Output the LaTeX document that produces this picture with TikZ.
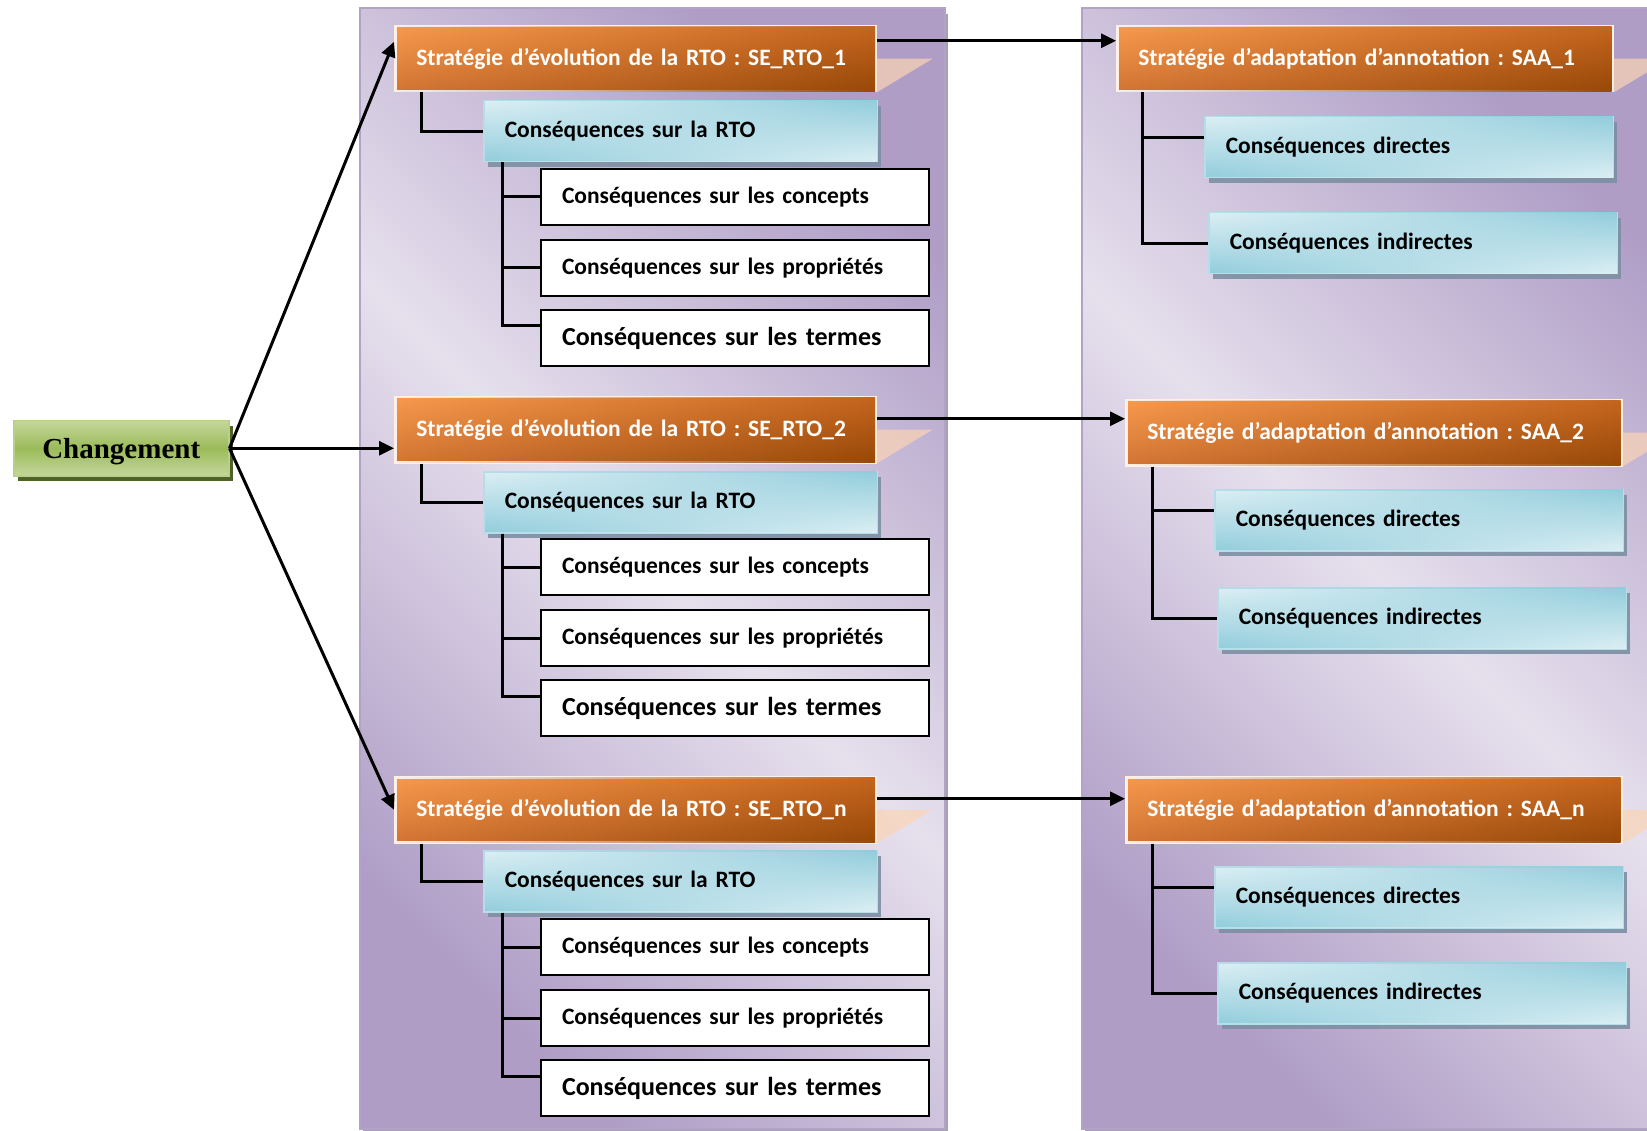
\documentclass[tikz,border=0pt]{standalone}
\usepackage{fontspec}
\setmainfont{Carlito}
\newfontfamily\serifbold{Liberation Serif}
\usepackage{tikz}
\usetikzlibrary{arrows.meta, positioning, shadows, fadings}
\frenchspacing
\definecolor{panellight}{HTML}{E6E0ED}
\definecolor{paneldark}{HTML}{AF9DC6}
\definecolor{panelline}{HTML}{B3A2C7}
\definecolor{panelshadow}{HTML}{8E8A9A}
\definecolor{orlight}{HTML}{F79A4D}
\definecolor{ormid}{HTML}{D27535}
\definecolor{ortopright}{HTML}{C4651F}
\definecolor{ordark}{HTML}{984807}
\definecolor{bllight}{HTML}{DCEFF4}
\definecolor{bldark}{HTML}{92CDDC}
\definecolor{blline}{HTML}{B7DEE8}
\definecolor{blshadow}{HTML}{7D8FA3}
\definecolor{grlight}{HTML}{C4D79B}
\definecolor{grmid}{HTML}{9BBB59}
\definecolor{grshadow}{HTML}{4F6228}
\definecolor{peach}{HTML}{FBD4B4}

\begin{document}
\begin{tikzpicture}[x=1pt, y=-1pt,
  panel/.style={draw=panelline, line width=2pt, top color=paneldark,
                bottom color=paneldark, middle color=panellight, shading angle=-45,
                drop shadow={shadow xshift=3pt, shadow yshift=-6pt, fill=panelshadow, opacity=0.8}},
  chgbox/.style={rectangle, draw=grmid!70!white, line width=1.5pt,
                 top color=grlight, bottom color=grlight, middle color=grmid,
                 minimum width=215pt, minimum height=55pt, anchor=north west,
                 text depth=0pt,
                 drop shadow={shadow xshift=4pt, shadow yshift=-5pt, fill=grshadow, opacity=1},
                 font=\serifbold\bfseries\fontsize{29}{32}\selectfont},
  seb/.style={rectangle, draw=white!85!orlight, line width=2.5pt,
              top color=orlight, bottom color=ormid,
              postaction={path fading=west, top color=ortopright, bottom color=ordark},
              text width=438pt, inner xsep=21pt, minimum height=65pt, align=left,
              font=\bfseries\fontsize{23.5}{28}\selectfont, text=white, anchor=north west},
  saab/.style={seb, text width=453pt},
  rtob/.style={rectangle, draw=blline, line width=1.5pt,
               top color=bllight, bottom color=bldark,
               postaction={path fading=west, top color=bldark, bottom color=bllight},
               text width=351pt, inner xsep=21pt, minimum height=61pt, align=left,
               font=\bfseries\fontsize{23.5}{28}\selectfont, anchor=north west,
               drop shadow={shadow xshift=4pt, shadow yshift=-5pt, fill=blshadow, opacity=0.9}},
  csqb/.style={rtob, text width=366pt},
  termb/.style={rectangle, draw=black, line width=2pt, fill=white,
                text width=346pt, inner xsep=21pt, minimum height=56pt, align=left,
                font=\bfseries\fontsize{23.5}{28}\selectfont},
  bigterm/.style={font=\bfseries\fontsize{26}{30}\selectfont},
  tree/.style={line width=3pt, black},
  arr/.style={-{Triangle[length=15pt, width=14pt]}, line width=3pt, black},
  tri/.style={fill=peach, opacity=0.7}
]
\useasboundingbox (0,0) rectangle (1647,1131);
\clip (0,0) rectangle (1647,1131);

% panels
\draw[panel] (360,8) rectangle (945,1129);
\draw[panel] (1082,8) rectangle (1660,1129);

\node[chgbox] (chg) at (13,420) {Changement};

% evolution strategies
\node[seb] (se1) at (394,25)  {Stratégie d’évolution de la RTO : SE\_RTO\_1};
\node[seb] (se2) at (394,396) {Stratégie d’évolution de la RTO : SE\_RTO\_2};
\node[seb] (se3) at (394,776) {Stratégie d’évolution de la RTO : SE\_RTO\_n};

\node[rtob] (rto1) at (483,100) {Conséquences sur la RTO};
\node[rtob] (rto2) at (483,471) {Conséquences sur la RTO};
\node[rtob] (rto3) at (483,850) {Conséquences sur la RTO};

\node[termb, anchor=north west] (c1) at (540,168) {Conséquences sur les concepts};
\node[termb, below=13pt of c1] (p1) {Conséquences sur les propriétés};
\node[termb, bigterm, below=12pt of p1] (t1) {Conséquences sur les termes};
\node[termb, anchor=north west] (c2) at (540,538) {Conséquences sur les concepts};
\node[termb, below=13pt of c2] (p2) {Conséquences sur les propriétés};
\node[termb, bigterm, below=12pt of p2] (t2) {Conséquences sur les termes};
\node[termb, anchor=north west] (c3) at (540,918) {Conséquences sur les concepts};
\node[termb, below=13pt of c3] (p3) {Conséquences sur les propriétés};
\node[termb, bigterm, below=12pt of p3] (t3) {Conséquences sur les termes};

% annotation strategies
\node[saab] (saa1) at (1116,25)  {Stratégie d’adaptation d’annotation : SAA\_1};
\node[saab] (saa2) at (1125,399) {Stratégie d’adaptation d’annotation : SAA\_2};
\node[saab] (saa3) at (1125,776) {Stratégie d’adaptation d’annotation : SAA\_n};

\node[csqb] (dir1) at (1204,116) {Conséquences directes};
\node[csqb] (ind1) at (1208,212) {Conséquences indirectes};
\node[csqb] (dir2) at (1214,489) {Conséquences directes};
\node[csqb] (ind2) at (1217,587) {Conséquences indirectes};
\node[csqb] (dir3) at (1214,866) {Conséquences directes};
\node[csqb] (ind3) at (1217,962) {Conséquences indirectes};

% folded corners
\fill[tri] (se1.east) -- ++(56,0) -- (se1.south east) -- cycle;
\fill[tri] (se2.east) -- ++(56,0) -- (se2.south east) -- cycle;
\fill[tri] (se3.east) -- ++(56,0) -- (se3.south east) -- cycle;
\fill[tri] (saa1.east) -- ++(56,0) -- (saa1.south east) -- cycle;
\fill[tri] (saa2.east) -- ++(56,0) -- (saa2.south east) -- cycle;
\fill[tri] (saa3.east) -- ++(56,0) -- (saa3.south east) -- cycle;

% trees
\draw[tree] ([xshift=27pt]se1.south west) |- (rto1.west);
\draw[tree] ([xshift=27pt]se2.south west) |- (rto2.west);
\draw[tree] ([xshift=27pt]se3.south west) |- (rto3.west);
\draw[tree] ([xshift=19pt]rto1.south west) |- (c1.west);
\draw[tree] ([xshift=19pt]rto1.south west) |- (p1.west);
\draw[tree] ([xshift=19pt]rto1.south west) |- ([yshift=12pt]t1.west);
\draw[tree] ([xshift=19pt]rto2.south west) |- (c2.west);
\draw[tree] ([xshift=19pt]rto2.south west) |- (p2.west);
\draw[tree] ([xshift=19pt]rto2.south west) |- ([yshift=12pt]t2.west);
\draw[tree] ([xshift=19pt]rto3.south west) |- (c3.west);
\draw[tree] ([xshift=19pt]rto3.south west) |- (p3.west);
\draw[tree] ([xshift=19pt]rto3.south west) |- ([yshift=12pt]t3.west);
\draw[tree] ([xshift=26pt]saa1.south west) |- ([yshift=10pt]dir1.west);
\draw[tree] ([xshift=26pt]saa1.south west) |- (ind1.west);
\draw[tree] ([xshift=27pt]saa2.south west) |- ([yshift=10pt]dir2.west);
\draw[tree] ([xshift=27pt]saa2.south west) |- (ind2.west);
\draw[tree] ([xshift=27pt]saa3.south west) |- ([yshift=10pt]dir3.west);
\draw[tree] ([xshift=27pt]saa3.south west) |- (ind3.west);

% arrows
\draw[arr] (chg.east) -- ([yshift=17pt]se1.west);
\draw[arr] (chg.east) -- (chg.east -| se2.west);
\draw[arr] (chg.east) -- (se3.west);
\draw[arr] ([yshift=18pt]se1.east) -- ([yshift=18pt]se1.east -| saa1.west);
\draw[arr] ([yshift=11pt]se2.east) -- ([yshift=11pt]se2.east -| saa2.west);
\draw[arr] ([yshift=11pt]se3.east) -- ([yshift=11pt]se3.east -| saa3.west);
\end{tikzpicture}
\end{document}
